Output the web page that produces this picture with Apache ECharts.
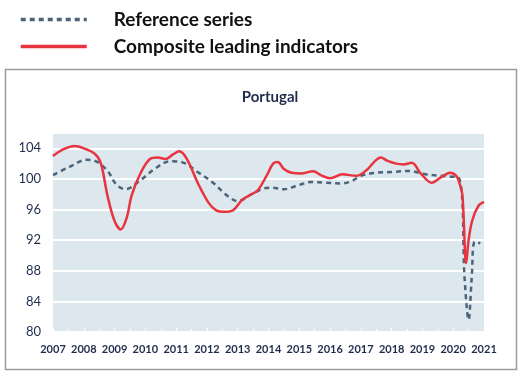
<!DOCTYPE html>
<html>
<head>
<meta charset="utf-8">
<script src="https://cdn.jsdelivr.net/npm/echarts@6/dist/echarts.min.js"></script>
<style>
  html, body { margin: 0; padding: 0; background: #ffffff; }
  #chart { width: 529px; height: 375px; }
</style>
</head>
<body>
<div id="chart"></div>
<script>
// ---- data ----
var title = 'Portugal';
var refName = 'Reference series';
var cliName = 'Composite leading indicators';

var yTicks = [80, 84, 88, 92, 96, 100, 104];
var xYears = [2007, 2008, 2009, 2010, 2011, 2012, 2013, 2014, 2015, 2016, 2017, 2018, 2019, 2020, 2021];

var cliDates = [2007.0, 2007.3, 2007.7, 2008.0, 2008.35, 2008.55, 2008.77, 2009.0, 2009.2, 2009.4,
  2009.55, 2009.85, 2010.15, 2010.4, 2010.65, 2010.9, 2011.1, 2011.35, 2011.7, 2012.05,
  2012.3, 2012.6, 2012.85, 2013.15, 2013.45, 2013.65, 2013.95, 2014.15, 2014.3, 2014.5,
  2014.75, 2015.05, 2015.45, 2015.7, 2016.0, 2016.4, 2016.85, 2017.2, 2017.45, 2017.65,
  2017.85, 2018.15, 2018.4, 2018.65, 2018.95, 2019.3, 2019.6, 2019.9, 2020.1, 2020.2,
  2020.3, 2020.42, 2020.5, 2020.62, 2020.82, 2021.0];
var cliValues = [103.0, 103.8, 104.3, 104.0, 103.3, 102.1, 97.8, 94.5, 93.4, 95.0,
  97.8, 100.8, 102.6, 102.8, 102.6, 103.2, 103.6, 102.6, 99.5, 96.9,
  95.9, 95.7, 95.9, 97.3, 98.0, 98.5, 100.5, 102.0, 102.2, 101.3,
  100.8, 100.7, 101.0, 100.5, 100.1, 100.6, 100.4, 101.2, 102.3, 102.8,
  102.4, 102.0, 101.9, 102.1, 100.7, 99.5, 100.2, 100.8, 100.4, 99.5,
  97.8, 89.0, 92.0, 94.6, 96.5, 97.0];

var refDates = [2007.0, 2007.5, 2008.1, 2008.45, 2008.8, 2009.05, 2009.35, 2009.8, 2010.3, 2010.8,
  2011.25, 2011.7, 2012.2, 2012.6, 2013.0, 2013.45, 2013.8, 2014.1, 2014.5, 2014.95,
  2015.4, 2015.85, 2016.35, 2016.7, 2017.0, 2017.5, 2018.0, 2018.55, 2019.1, 2019.6,
  2020.2, 2020.37, 2020.5, 2020.6, 2020.7, 2020.88];
var refValues = [100.5, 101.5, 102.5, 102.2, 100.9, 99.3, 98.65, 99.7, 101.3, 102.3,
  102.1, 100.9, 99.5, 98.0, 97.1, 98.0, 98.7, 98.85, 98.65, 99.15,
  99.6, 99.5, 99.4, 99.7, 100.4, 100.8, 100.9, 101.05, 100.6, 100.4,
  100.0, 87.0, 81.6, 87.0, 91.8, 91.6];

function pairs(xs, ys) {
  var out = [];
  for (var i = 0; i < xs.length; i++) out.push([xs[i], ys[i]]);
  return out;
}

var font = 'Lato, "Open Sans", sans-serif';
var textColor = '#1f2d4d';

var chart = echarts.init(document.getElementById('chart'), null, { renderer: 'canvas' });
chart.setOption({
  animation: false,
  backgroundColor: '#ffffff',
  graphic: [{
    type: 'rect',
    shape: { x: 5.5, y: 69.5, width: 511, height: 300 },
    style: { fill: 'none', stroke: '#9b9b9b', lineWidth: 1.5 },
    z: -1
  }],
  title: {
    text: title,
    left: 265, top: 85, textAlign: 'center',
    textStyle: { fontFamily: font, fontSize: 15, fontWeight: 'bold', color: textColor }
  },
  legend: {
    orient: 'vertical',
    left: 14, top: 5,
    itemWidth: 66, itemHeight: 12,
    itemGap: 8,
    data: [refName, cliName],
    itemStyle: { opacity: 0 },
    lineStyle: { width: 3.5 },
    textStyle: { fontFamily: font, fontSize: 19, fontWeight: 'bold', color: '#111111', padding: [0, 0, 0, 22] }
  },
  grid: {
    left: 53, right: 45, top: 133, bottom: 43,
    show: true, backgroundColor: '#dde7ee', borderWidth: 0
  },
  xAxis: {
    type: 'value',
    min: xYears[0], max: xYears[xYears.length - 1], interval: 1,
    axisLine: { show: true, lineStyle: { color: '#ffffff', width: 1 } },
    axisTick: { show: true, inside: true, length: 4, lineStyle: { color: '#ffffff' } },
    minorTick: { show: true, splitNumber: 2, length: 3, lineStyle: { color: '#ffffff' } },
    splitLine: { show: false },
    axisLabel: {
      margin: 12,
      fontFamily: font, fontSize: 11, fontWeight: 'bold', color: textColor,
      formatter: function (v) { return xYears.indexOf(v) >= 0 ? String(v) : ''; }
    }
  },
  yAxis: {
    type: 'value',
    min: yTicks[0], max: 106, interval: 4,
    axisLine: { show: false },
    axisTick: { show: false },
    splitLine: { show: true, lineStyle: { color: '#ffffff', width: 2 } },
    axisLabel: {
      margin: 12, showMaxLabel: false,
      fontFamily: font, fontSize: 13, color: textColor,
      formatter: function (v) { return yTicks.indexOf(v) >= 0 ? String(v) : ''; }
    }
  },
  series: [
    {
      name: refName, type: 'line', symbol: 'none', smooth: 0.35,
      data: pairs(refDates, refValues),
      lineStyle: { color: '#4a6479', width: 2.5, type: [5, 4] },
      itemStyle: { color: '#4a6479' },
      z: 2
    },
    {
      name: cliName, type: 'line', symbol: 'none', smooth: 0.35,
      data: pairs(cliDates, cliValues),
      lineStyle: { color: '#e8343e', width: 2.5 },
      itemStyle: { color: '#e8343e' },
      z: 3
    }
  ]
});
</script>
</body>
</html>
